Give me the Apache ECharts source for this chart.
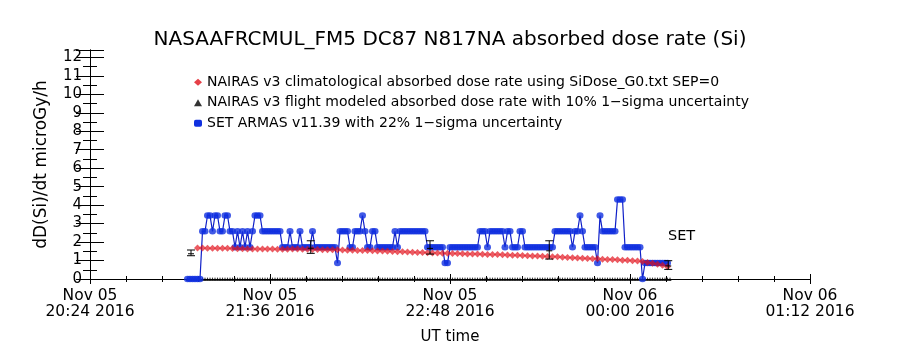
<!DOCTYPE html>
<html>
<head>
<meta charset="utf-8">
<script src="https://cdn.jsdelivr.net/npm/echarts@6/dist/echarts.min.js"></script>
<style>
html,body{margin:0;padding:0;background:#fff;}
#chart{width:900px;height:350px;}
</style>
</head>
<body>
<div id="chart"></div>
<script>
// ---- data (x = minutes after Nov 05 2016 20:24 UT) ----
const xTickLabels = ["Nov 05\n20:24 2016", "Nov 05\n21:36 2016", "Nov 05\n22:48 2016", "Nov 06\n00:00 2016", "Nov 06\n01:12 2016"];
const yTickLabels = ["0","1","2","3","4","5","6","7","8","9","10","11","12"];

const seriesNames = [
  "NAIRAS v3 climatological absorbed dose rate using SiDose_G0.txt SEP=0",
  "NAIRAS v3 flight modeled absorbed dose rate with 10% 1\u2212sigma uncertainty",
  "SET ARMAS v11.39 with 22% 1\u2212sigma uncertainty"
];

// NAIRAS climatological, sampled every 2 min starting at minute 43
const climStart = 43, climStep = 2;
const climValues = [
  1.68,1.68,1.67,1.67,1.66,1.66,1.66,1.65,1.64,1.64,
  1.63,1.63,1.63,1.62,1.62,1.62,1.61,1.61,1.61,1.62,
  1.62,1.61,1.61,1.60,1.60,1.59,1.59,1.58,1.58,1.57,
  1.56,1.56,1.55,1.54,1.54,1.53,1.52,1.51,1.50,1.49,
  1.48,1.47,1.46,1.45,1.44,1.43,1.42,1.41,1.41,1.40,
  1.39,1.38,1.38,1.37,1.36,1.35,1.35,1.34,1.33,1.32,
  1.32,1.31,1.30,1.29,1.28,1.27,1.26,1.25,1.24,1.23,
  1.22,1.21,1.20,1.18,1.17,1.15,1.14,1.12,1.11,1.10,
  1.09,1.07,1.06,1.05,1.04,1.02,1.01,0.99,0.98,0.95,
  0.90,0.85,0.80,0.74,0.67
];

// NAIRAS flight modeled: values at 0 every minute from minute 39
const flightStart = 39, flightStep = 1;
const flightValues = [
  0,0,0,0,0,0,0,0,0,0,0,0,0,0,0,0,0,0,0,0,
  0,0,0,0,0,0,0,0,0,0,0,0,0,0,0,0,0,0,0,0,
  0,0,0,0,0,0,0,0,0,0,0,0,0,0,0,0,0,0,0,0,
  0,0,0,0,0,0,0,0,0,0,0,0,0,0,0,0,0,0,0,0,
  0,0,0,0,0,0,0,0,0,0,0,0,0,0,0,0,0,0,0,0,
  0,0,0,0,0,0,0,0,0,0,0,0,0,0,0,0,0,0,0,0,
  0,0,0,0,0,0,0,0,0,0,0,0,0,0,0,0,0,0,0,0,
  0,0,0,0,0,0,0,0,0,0,0,0,0,0,0,0,0,0,0,0,
  0,0,0,0,0,0,0,0,0,0,0,0,0,0,0,0,0,0,0,0,
  0,0,0,0,0,0,0,0,0,0,0,0,0,0
];
// flight modeled points with uncertainty bars: minute, low, high, value
const flightErrTimes = [40.4, 88.3, 136, 183.7, 231.3];
const flightErrLow   = [1.26, 1.39, 1.35, 1.08, 0.52];
const flightErrHigh  = [1.57, 2.07, 2.07, 2.07, 0.99];
const flightErrValue = [1.42, 1.72, 1.71, 1.58, 0.76];

// SET ARMAS, every minute starting at minute 39
const setStart = 39, setStep = 1;
const setValues = [
  0,0,0,0,0,0,
  2.58,2.58,3.44,3.44,2.58,3.44,3.44,2.58,2.58,3.44,3.44,2.58,2.58,
  1.72,2.58,1.72,2.58,1.72,2.58,1.72,2.58,3.44,3.44,3.44,
  2.58,2.58,2.58,2.58,2.58,2.58,2.58,2.58,
  1.72,1.72,1.72,2.58,1.72,1.72,1.72,2.58,1.72,1.72,1.72,1.72,2.58,
  1.72,1.72,1.72,1.72,1.72,1.72,1.72,1.72,1.72,0.86,
  2.58,2.58,2.58,2.58,1.72,1.72,2.58,2.58,2.58,3.44,2.58,1.72,1.72,2.58,2.58,
  1.72,1.72,1.72,1.72,1.72,1.72,1.72,2.58,1.72,
  2.58,2.58,2.58,2.58,2.58,2.58,2.58,2.58,2.58,2.58,2.58,
  1.72,1.72,1.72,1.72,1.72,1.72,1.72,0.86,0.86,
  1.72,1.72,1.72,1.72,1.72,1.72,1.72,1.72,1.72,1.72,1.72,1.72,
  2.58,2.58,2.58,1.72,2.58,2.58,2.58,2.58,2.58,2.58,1.72,2.58,2.58,
  1.72,1.72,1.72,2.58,2.58,
  1.72,1.72,1.72,1.72,1.72,1.72,1.72,1.72,1.72,1.72,1.72,1.72,
  2.58,2.58,2.58,2.58,2.58,2.58,2.58,1.72,2.58,2.58,3.44,2.58,
  1.72,1.72,1.72,1.72,1.72,0.86,3.44,
  2.58,2.58,2.58,2.58,2.58,2.58,4.3,4.3,4.3,
  1.72,1.72,1.72,1.72,1.72,1.72,1.72,0,
  0.86,0.86,0.86,0.86,0.86,0.86,0.86,0.86,0.86,0.86
];

// ---- build chart ----
const FONT = "DejaVu Sans";
const pairs = (start, step, vals) => vals.map((v, i) => [start + i * step, v]);
const errData = flightErrTimes.map((t, i) => [t, flightErrLow[i], flightErrHigh[i], flightErrValue[i]]);
const setData = pairs(setStart, setStep, setValues);

const chart = echarts.init(document.getElementById('chart'), null, {renderer: 'canvas'});

const xCommon = {
  type: 'value', min: 0, max: 288, interval: 72,
  axisLine: {show: true, lineStyle: {color: '#000', width: 1}},
  axisTick: {show: true, inside: true, length: 5, lineStyle: {color: '#000'}},
  minorTick: {show: true, splitNumber: 5, length: 3, lineStyle: {color: '#000'}},
  splitLine: {show: false}
};
const yCommon = {
  type: 'value', min: 0, max: 12.4, interval: 1,
  axisLine: {show: true, lineStyle: {color: '#000', width: 1}},
  axisTick: {show: true, inside: true, length: 14, lineStyle: {color: '#000'}},
  minorTick: {show: true, splitNumber: 2, length: 7, lineStyle: {color: '#000'}},
  splitLine: {show: false}
};

chart.setOption({
  animation: false,
  backgroundColor: '#fff',
  title: {
    text: 'NASAAFRCMUL_FM5 DC87 N817NA absorbed dose rate (Si)',
    left: 'center', top: 25,
    textStyle: {fontFamily: FONT, fontSize: 20, fontWeight: 'normal', color: '#000'}
  },
  grid: {left: 90, right: 90, top: 50, bottom: 71},
  legend: {
    orient: 'vertical', left: 189, top: 70,
    itemWidth: 8, itemHeight: 7, itemGap: 6,
    selectedMode: false,
    textStyle: {fontFamily: FONT, fontSize: 14, color: '#000', lineHeight: 14.5},
    data: [
      {name: seriesNames[0], icon: 'diamond', itemStyle: {color: '#e0101a'}},
      {name: seriesNames[1], icon: 'triangle', itemStyle: {color: '#000'}},
      {name: seriesNames[2], icon: 'roundRect', itemStyle: {color: '#1030e0'}}
    ]
  },
  xAxis: [
    Object.assign({}, xCommon, {
      position: 'bottom',
      name: 'UT time', nameLocation: 'middle', nameGap: 51,
      nameTextStyle: {fontFamily: FONT, fontSize: 15, color: '#000'},
      axisLabel: {
        fontFamily: FONT, fontSize: 15.5, color: '#000', lineHeight: 16, margin: 9,
        formatter: v => (v % 72 === 0 ? xTickLabels[v / 72] : '')
      }
    }),
    Object.assign({}, xCommon, {position: 'top', axisLabel: {show: false}})
  ],
  yAxis: [
    Object.assign({}, yCommon, {
      position: 'left',
      name: 'dD(Si)/dt microGy/h', nameLocation: 'middle', nameGap: 40, nameRotate: 90,
      nameTextStyle: {fontFamily: FONT, fontSize: 17, color: '#000'},
      axisLabel: {
        fontFamily: FONT, fontSize: 15, color: '#000', margin: 8, showMaxLabel: false,
        formatter: v => (Number.isInteger(v) ? yTickLabels[v] : '')
      }
    }),
    Object.assign({}, yCommon, {position: 'right', axisLabel: {show: false}})
  ],
  graphic: [{
    type: 'text', left: 668, top: 229,
    style: {text: 'SET', font: '14.5px "DejaVu Sans"', fill: '#000'}
  }],
  series: [
    {
      name: seriesNames[1], type: 'scatter',
      data: pairs(flightStart, flightStep, flightValues),
      symbol: 'triangle', symbolSize: [3, 4],
      itemStyle: {color: '#000'}, z: 1
    },
    {
      name: seriesNames[2], type: 'line',
      data: setData,
      symbol: 'none',
      lineStyle: {color: '#1020c8', width: 1.2},
      z: 2
    },
    {
      name: seriesNames[2], type: 'scatter',
      data: setData,
      symbol: 'circle', symbolSize: [7, 6.5],
      itemStyle: {color: '#1030e0'}, z: 3
    },
    {
      name: seriesNames[0], type: 'scatter',
      data: pairs(climStart, climStep, climValues),
      symbol: 'diamond', symbolSize: 7,
      itemStyle: {color: 'rgba(225,15,25,0.85)'}, z: 4
    },
    {
      name: seriesNames[1], type: 'custom',
      data: errData, z: 5,
      renderItem: function (params, api) {
        const x = api.value(0);
        const lo = api.coord([x, api.value(1)]);
        const hi = api.coord([x, api.value(2)]);
        const c = api.coord([x, api.value(3)]);
        const w = 4;
        const st = {stroke: '#000', lineWidth: 1};
        return {type: 'group', children: [
          {type: 'line', shape: {x1: lo[0], y1: lo[1], x2: hi[0], y2: hi[1]}, style: st},
          {type: 'line', shape: {x1: lo[0]-w, y1: lo[1], x2: lo[0]+w, y2: lo[1]}, style: st},
          {type: 'line', shape: {x1: hi[0]-w, y1: hi[1], x2: hi[0]+w, y2: hi[1]}, style: st},
          {type: 'line', shape: {x1: c[0]-3, y1: c[1]+1, x2: c[0]+3, y2: c[1]+1}, style: st}
        ]};
      }
    }
  ]
});
</script>
</body>
</html>
